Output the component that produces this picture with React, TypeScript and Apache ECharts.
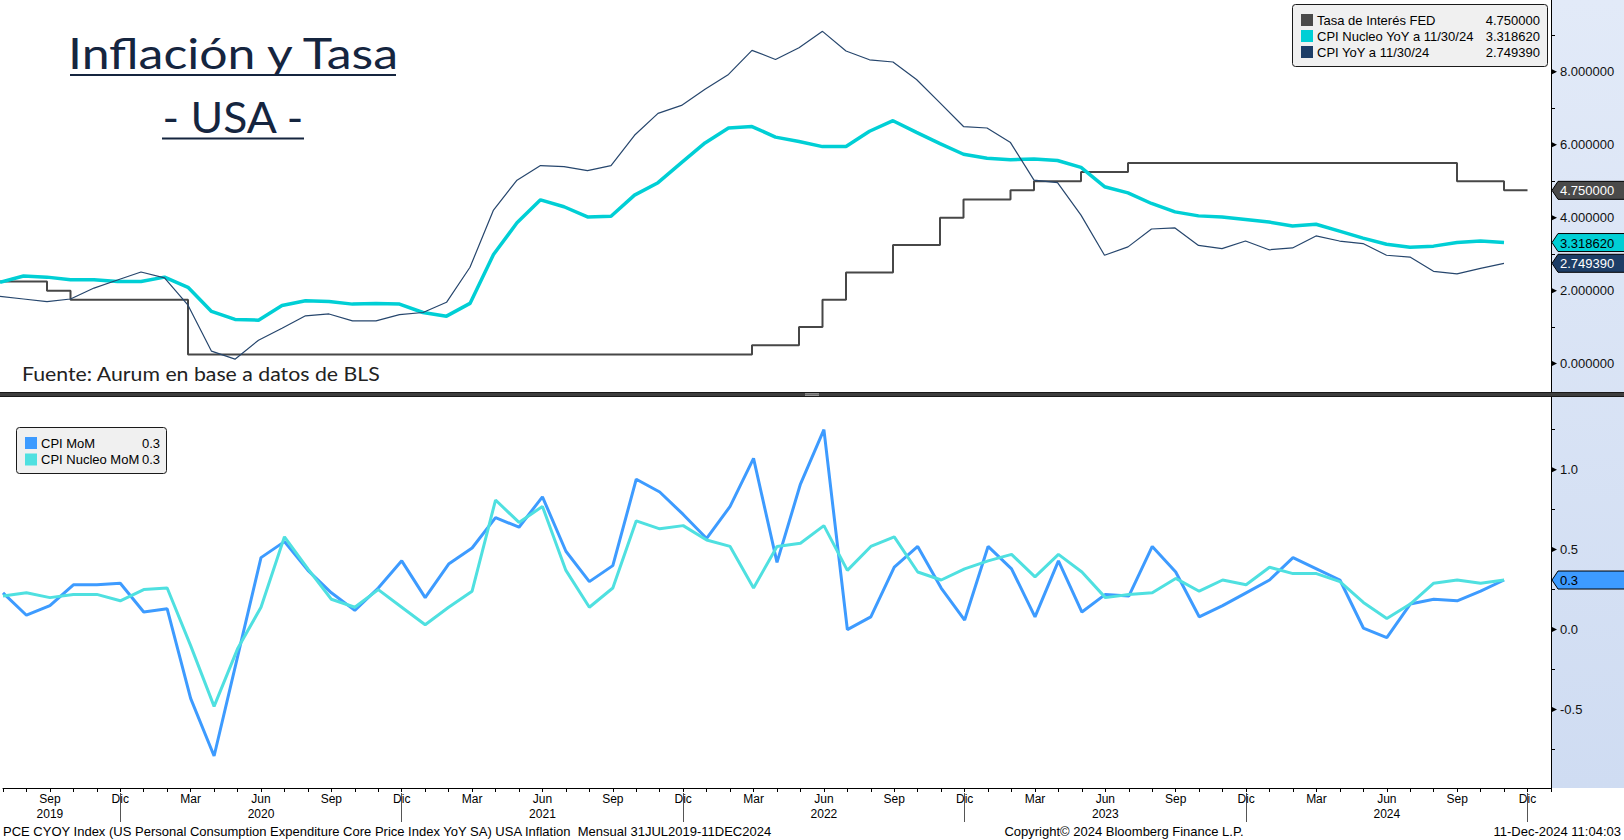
import React, { useEffect, useRef } from "react";
import * as echarts from "echarts";

// ---------- DATA ----------
const START_YEAR = 2019;
const START_MONTH = 6; // July (0-based), first point = Jul 2019
const monthNames = ["Ene", "Feb", "Mar", "Abr", "May", "Jun", "Jul", "Ago", "Sep", "Oct", "Nov", "Dic"];

// Fed funds upper bound, Jul 2019 .. Dec 2024
const fedRate = [
  2.25, 2.25, 2.0, 1.75, 1.75, 1.75, 1.75, 1.75, 0.25, 0.25,
  0.25, 0.25, 0.25, 0.25, 0.25, 0.25, 0.25, 0.25, 0.25, 0.25,
  0.25, 0.25, 0.25, 0.25, 0.25, 0.25, 0.25, 0.25, 0.25, 0.25,
  0.25, 0.25, 0.5, 0.5, 1.0, 1.75, 2.5, 2.5, 3.25, 3.25,
  4.0, 4.5, 4.5, 4.75, 5.0, 5.0, 5.25, 5.25, 5.5, 5.5,
  5.5, 5.5, 5.5, 5.5, 5.5, 5.5, 5.5, 5.5, 5.5, 5.5,
  5.5, 5.5, 5.0, 5.0, 4.75, 4.75,
];

// CPI Core YoY, Jul 2019 .. Nov 2024
const cpiCoreYoY = [
  2.23, 2.40, 2.37, 2.30, 2.30, 2.25, 2.25, 2.37, 2.09, 1.43,
  1.21, 1.19, 1.59, 1.72, 1.70, 1.63, 1.65, 1.63, 1.40, 1.30,
  1.65, 2.99, 3.86, 4.49, 4.30, 4.02, 4.04, 4.62, 4.96, 5.51,
  6.05, 6.46, 6.50, 6.21, 6.09, 5.95, 5.95, 6.37, 6.66, 6.34,
  6.03, 5.74, 5.63, 5.59, 5.61, 5.57, 5.38, 4.85, 4.68, 4.39,
  4.16, 4.05, 4.02, 3.95, 3.88, 3.77, 3.82, 3.63, 3.44, 3.27,
  3.19, 3.22, 3.32, 3.36, 3.31862,
];

// CPI YoY, Jul 2019 .. Nov 2024
const cpiYoY = [
  1.84, 1.77, 1.70, 1.77, 2.07, 2.29, 2.51, 2.35, 1.60, 0.34,
  0.12, 0.64, 0.97, 1.31, 1.36, 1.17, 1.17, 1.34, 1.40, 1.68,
  2.64, 4.21, 5.03, 5.43, 5.40, 5.29, 5.43, 6.26, 6.86, 7.08,
  7.52, 7.93, 8.59, 8.34, 8.66, 9.11, 8.57, 8.33, 8.27, 7.79,
  7.15, 6.50, 6.46, 6.06, 5.03, 4.96, 4.07, 2.97, 3.20, 3.69,
  3.72, 3.24, 3.15, 3.36, 3.12, 3.17, 3.50, 3.36, 3.29, 2.97,
  2.92, 2.53, 2.46, 2.61, 2.74939,
];

// CPI MoM, Jul 2019 .. Nov 2024
const cpiMoM = [
  0.23, 0.09, 0.15, 0.28, 0.28, 0.29, 0.11, 0.13, -0.43, -0.79,
  -0.17, 0.45, 0.55, 0.37, 0.23, 0.12, 0.26, 0.43, 0.20, 0.41,
  0.51, 0.70, 0.64, 0.83, 0.49, 0.30, 0.40, 0.94, 0.86, 0.72,
  0.57, 0.77, 1.07, 0.42, 0.91, 1.25, 0.00, 0.08, 0.39, 0.52,
  0.26, 0.06, 0.52, 0.38, 0.08, 0.43, 0.11, 0.22, 0.21, 0.52,
  0.36, 0.08, 0.15, 0.23, 0.31, 0.45, 0.38, 0.31, 0.01, -0.05,
  0.16, 0.19, 0.18, 0.24, 0.31,
];

// CPI Core MoM, Jul 2019 .. Nov 2024
const cpiCoreMoM = [
  0.21, 0.23, 0.20, 0.22, 0.22, 0.18, 0.25, 0.26, -0.10, -0.48,
  -0.12, 0.14, 0.58, 0.38, 0.19, 0.14, 0.25, 0.14, 0.03, 0.14,
  0.24, 0.81, 0.67, 0.77, 0.37, 0.14, 0.26, 0.68, 0.63, 0.65,
  0.56, 0.52, 0.26, 0.52, 0.54, 0.65, 0.37, 0.52, 0.58, 0.36,
  0.31, 0.38, 0.43, 0.47, 0.33, 0.47, 0.36, 0.20, 0.22, 0.23,
  0.32, 0.24, 0.31, 0.28, 0.39, 0.35, 0.35, 0.30, 0.17, 0.07,
  0.16, 0.29, 0.31, 0.29, 0.31,
];

const topLabelValues = [0, 2, 4, 6, 8];
const topTickValues = [0, 1, 2, 3, 4, 5, 6, 7, 8, 9];
const bottomLabelValues = [-0.5, 0, 0.5, 1.0];
const bottomTickValues = [-0.75, -0.5, -0.25, 0, 0.25, 0.5, 0.75, 1.0, 1.25];
const yearSeparators = [5, 17, 29, 41, 53, 65]; // Dic of each year

const topLegend = [
  { name: "Tasa de Interés FED", color: "#4a4a4a", value: fedRate[fedRate.length - 1].toFixed(6) },
  { name: "CPI Nucleo YoY a 11/30/24", color: "#00cfd5", value: cpiCoreYoY[cpiCoreYoY.length - 1].toFixed(6) },
  { name: "CPI YoY a 11/30/24", color: "#1d3d66", value: cpiYoY[cpiYoY.length - 1].toFixed(6) },
];
const bottomLegend = [
  { name: "CPI MoM", color: "#3d9bff", value: cpiMoM[cpiMoM.length - 1].toFixed(1) },
  { name: "CPI Nucleo MoM", color: "#4fe0e0", value: cpiCoreMoM[cpiCoreMoM.length - 1].toFixed(1) },
];

const FONT = "'Liberation Sans', Arial, sans-serif";
const TITLE_FONT = "Lato, 'Open Sans', sans-serif";

const pairs = (arr: number[]) => arr.map((v, i) => [i, v]);

const monthLabel = (v: number) => {
  const i = Math.round(v);
  const m = (START_MONTH + i) % 12;
  const y = START_YEAR + Math.floor((START_MONTH + i) / 12);
  if (m % 3 !== 2) return "";
  const name = monthNames[m];
  const showYear = (y === START_YEAR && m === 8) || (y > START_YEAR && m === 5);
  return showYear ? name + "\n" + y : name;
};

export default function App() {
  const ref = useRef<HTMLDivElement>(null);
  useEffect(() => {
    const chart = echarts.init(ref.current!, null, { renderer: "svg", width: 1624, height: 840 });
    const AX = 1551; // right axis x
    const option: any = {
      animation: false,
      backgroundColor: "#ffffff",
      textStyle: { fontFamily: FONT },
      grid: [
        { left: 0, top: 0, width: AX, height: 392 },
        { left: 0, top: 397, width: AX, height: 391 },
      ],
      xAxis: [
        { gridIndex: 0, type: "value", min: 0, max: 66, show: false, axisLine: { onZero: false } },
        {
          gridIndex: 1, type: "value", min: 0, max: 66, interval: 1, position: "bottom",
          axisLine: { show: true, onZero: false, lineStyle: { color: "#000", width: 1 } },
          axisTick: { show: true, length: 4, lineStyle: { color: "#000" } },
          axisLabel: { formatter: monthLabel, fontSize: 12, lineHeight: 14.5, margin: 4, color: "#000", fontFamily: FONT },
          splitLine: { show: false },
        },
        {
          gridIndex: 1, type: "value", min: 0, max: 66, position: "bottom", offset: 5,
          axisLine: { show: false, onZero: false }, axisLabel: { show: false }, splitLine: { show: false },
          axisTick: { show: true, customValues: yearSeparators, length: 29, lineStyle: { color: "#555" } },
        },
      ],
      yAxis: [
        {
          gridIndex: 0, type: "value", position: "right", min: -0.78, max: 9.97,
          axisLine: { show: true, onZero: false, lineStyle: { color: "#000" } },
          axisTick: { show: true, customValues: topTickValues, length: 4, lineStyle: { color: "#000" } },
          axisLabel: { customValues: topLabelValues, formatter: (v: number) => v.toFixed(6), margin: 9, fontSize: 13, color: "#111", fontFamily: FONT },
          splitLine: { show: false },
        },
        {
          gridIndex: 1, type: "value", position: "right", min: -0.99, max: 1.454,
          axisLine: { show: true, onZero: false, lineStyle: { color: "#000" } },
          axisTick: { show: true, customValues: bottomTickValues, length: 4, lineStyle: { color: "#000" } },
          axisLabel: { customValues: bottomLabelValues, formatter: (v: number) => v.toFixed(1), margin: 9, fontSize: 13, color: "#111", fontFamily: FONT },
          splitLine: { show: false },
        },
      ],
      series: [
        { name: "Tasa de Interés FED", type: "line", xAxisIndex: 0, yAxisIndex: 0, data: pairs(fedRate), step: "end", symbol: "none", lineStyle: { color: "#474747", width: 2 }, z: 2 },
        { name: "CPI Nucleo YoY", type: "line", xAxisIndex: 0, yAxisIndex: 0, data: pairs(cpiCoreYoY), symbol: "none", lineStyle: { color: "#00cfd5", width: 3.5 }, z: 3 },
        { name: "CPI YoY", type: "line", xAxisIndex: 0, yAxisIndex: 0, data: pairs(cpiYoY), symbol: "none", lineStyle: { color: "#26466d", width: 1.2 }, z: 4 },
        { name: "CPI MoM", type: "line", xAxisIndex: 1, yAxisIndex: 1, data: pairs(cpiMoM), symbol: "none", lineStyle: { color: "#3d9bff", width: 3 }, z: 3 },
        { name: "CPI Nucleo MoM", type: "line", xAxisIndex: 1, yAxisIndex: 1, data: pairs(cpiCoreMoM), symbol: "none", lineStyle: { color: "#4fe0e0", width: 3 }, z: 4 },
      ],
    };
    chart.setOption(option);

    const g: any[] = [];
    // right axis background
    g.push({
      type: "rect", z: -10, silent: true,
      shape: { x: AX, y: 0, width: 1624 - AX, height: 788 },
      style: { fill: new echarts.graphic.LinearGradient(0, 0, 0, 1, [{ offset: 0, color: "#e2eaf8" }, { offset: 1, color: "#cfdcf2" }]) },
    });
    // divider
    g.push({ type: "rect", z: 50, shape: { x: 0, y: 392, width: 1624, height: 5 }, style: { fill: "#3e3e3e" } });
    g.push({ type: "line", z: 51, shape: { x1: 0, y1: 392.5, x2: 1624, y2: 392.5 }, style: { stroke: "#1a1a1a", lineWidth: 1 } });
    g.push({ type: "line", z: 51, shape: { x1: 0, y1: 396.5, x2: 1624, y2: 396.5 }, style: { stroke: "#1a1a1a", lineWidth: 1 } });
    g.push({ type: "line", z: 52, shape: { x1: 805, y1: 393.8, x2: 819, y2: 393.8 }, style: { stroke: "#aaaaaa", lineWidth: 1 } });
    g.push({ type: "line", z: 52, shape: { x1: 805, y1: 395.3, x2: 819, y2: 395.3 }, style: { stroke: "#aaaaaa", lineWidth: 1 } });

    // titles
    g.push({ type: "text", z: 20, x: 233, y: 53, scaleX: 1.19, style: { text: "Inflación y Tasa", font: "400 42px " + TITLE_FONT, fill: "#15253f", align: "center", verticalAlign: "middle" } });
    g.push({ type: "line", z: 20, shape: { x1: 70, y1: 75, x2: 396, y2: 75 }, style: { stroke: "#15253f", lineWidth: 2 } });
    g.push({ type: "text", z: 20, x: 233, y: 117, scaleX: 1.06, style: { text: "- USA -", font: "400 42px " + TITLE_FONT, fill: "#15253f", align: "center", verticalAlign: "middle" } });
    g.push({ type: "line", z: 20, shape: { x1: 162, y1: 138.5, x2: 304, y2: 138.5 }, style: { stroke: "#15253f", lineWidth: 2 } });
    g.push({ type: "text", z: 20, x: 22, y: 373, scaleX: 1.12, style: { text: "Fuente: Aurum en base a datos de BLS", font: "400 19px " + TITLE_FONT, fill: "#222", align: "left", verticalAlign: "middle" } });

    // top legend
    g.push({ type: "rect", z: 20, shape: { x: 1292.5, y: 4.5, width: 255, height: 62, r: 3 }, style: { fill: "#f0f0f0", stroke: "#1a1a1a", lineWidth: 1 } });
    topLegend.forEach((it, k) => {
      const cy = 20 + k * 16;
      g.push({ type: "rect", z: 21, shape: { x: 1301, y: cy - 6, width: 12, height: 12 }, style: { fill: it.color } });
      g.push({ type: "text", z: 21, x: 1317, y: cy, style: { text: it.name, font: "13px " + FONT, fill: "#000", align: "left", verticalAlign: "middle" } });
      g.push({ type: "text", z: 21, x: 1540, y: cy, style: { text: it.value, font: "13px " + FONT, fill: "#000", align: "right", verticalAlign: "middle" } });
    });
    // bottom legend
    g.push({ type: "rect", z: 20, shape: { x: 16.5, y: 427.5, width: 150, height: 46, r: 3 }, style: { fill: "#f0f0f0", stroke: "#1a1a1a", lineWidth: 1 } });
    bottomLegend.forEach((it, k) => {
      const cy = 443 + k * 16.5;
      g.push({ type: "rect", z: 21, shape: { x: 25, y: cy - 6, width: 12, height: 12 }, style: { fill: it.color } });
      g.push({ type: "text", z: 21, x: 41, y: cy, style: { text: it.name, font: "13px " + FONT, fill: "#000", align: "left", verticalAlign: "middle" } });
      g.push({ type: "text", z: 21, x: 160, y: cy, style: { text: it.value, font: "13px " + FONT, fill: "#000", align: "right", verticalAlign: "middle" } });
    });

    // footer texts
    g.push({ type: "text", z: 20, x: 3, y: 831, style: { text: "PCE CYOY Index (US Personal Consumption Expenditure Core Price Index YoY SA) USA Inflation  Mensual 31JUL2019-11DEC2024", font: "13px " + FONT, fill: "#000", align: "left", verticalAlign: "middle" } });
    g.push({ type: "text", z: 20, x: 1124, y: 831, style: { text: "Copyright© 2024 Bloomberg Finance L.P.", font: "13px " + FONT, fill: "#000", align: "center", verticalAlign: "middle" } });
    g.push({ type: "text", z: 20, x: 1621, y: 831, style: { text: "11-Dec-2024 11:04:03", font: "13px " + FONT, fill: "#000", align: "right", verticalAlign: "middle" } });

    // major tick triangles
    const tri = (axisIdx: number, v: number) => {
      const y = chart.convertToPixel({ yAxisIndex: axisIdx } as any, v) as number;
      g.push({ type: "polygon", z: 30, shape: { points: [[AX, y - 3], [AX + 6, y], [AX, y + 3]] }, style: { fill: "#000" } });
    };
    topLabelValues.forEach((v) => tri(0, v));
    bottomLabelValues.forEach((v) => tri(1, v));

    // value tags
    const tag = (axisIdx: number, v: number, text: string, fill: string, color: string) => {
      const y = chart.convertToPixel({ yAxisIndex: axisIdx } as any, v) as number;
      const h = 9;
      g.push({ type: "polygon", z: 31, shape: { points: [[AX + 1, y], [AX + 7, y - h], [1626, y - h], [1626, y + h], [AX + 7, y + h]] }, style: { fill, stroke: "#000", lineWidth: 1 } });
      g.push({ type: "text", z: 32, x: AX + 9, y: y + 0.5, style: { text, font: "13px " + FONT, fill: color, align: "left", verticalAlign: "middle" } });
    };
    tag(0, fedRate[fedRate.length - 1], topLegend[0].value, "#4a4a4a", "#ffffff");
    tag(0, cpiCoreYoY[cpiCoreYoY.length - 1], topLegend[1].value, "#00cfd5", "#000000");
    tag(0, cpiYoY[cpiYoY.length - 1], topLegend[2].value, "#1d3d66", "#ffffff");
    tag(1, cpiMoM[cpiMoM.length - 1], bottomLegend[0].value, "#3d9bff", "#000000");

    chart.setOption({ graphic: g });
    return () => chart.dispose();
  }, []);
  return <div ref={ref} style={{ position: "absolute", left: 0, top: 0, width: 1624, height: 840 }} />;
}
